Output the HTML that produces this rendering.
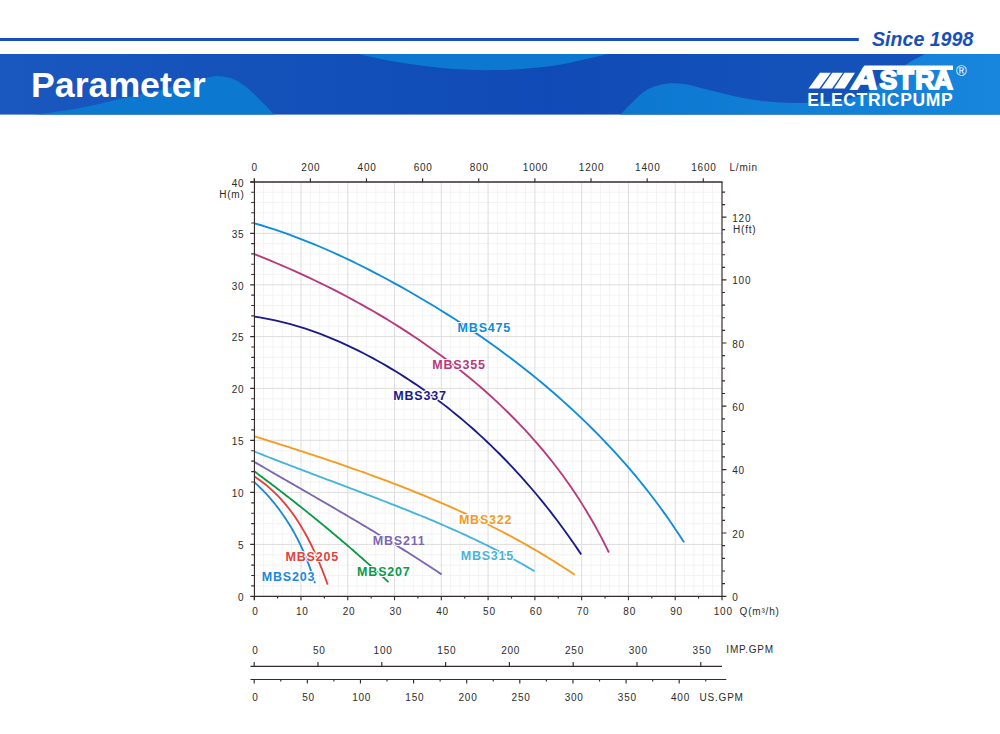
<!DOCTYPE html>
<html lang="en">
<head>
<meta charset="utf-8">
<title>Parameter</title>
<style>
html,body{margin:0;padding:0;background:#fff;}
body{width:1000px;height:734px;overflow:hidden;position:relative;font-family:"Liberation Sans",sans-serif;}
svg{position:absolute;left:0;top:0;display:block;}
text{font-family:"Liberation Sans",sans-serif;}
.ax{font-size:10px;fill:#2b2b2b;letter-spacing:0.8px;}
.cl{font-size:12.5px;font-weight:bold;letter-spacing:0.8px;stroke:#fff;stroke-width:2.2px;paint-order:stroke fill;stroke-linejoin:round;}
.ttl{font-size:35.7px;font-weight:bold;fill:#fff;}
.since{font-size:19.6px;font-weight:bold;font-style:italic;fill:#1650b8;}
.ep{font-size:17.5px;font-weight:bold;fill:#fff;}
.lg{font-size:26.5px;font-weight:bold;fill:#fff;stroke:#fff;stroke-width:1.8px;stroke-linejoin:miter;}
.reg{font-size:14.5px;fill:#fff;}
</style>
</head>
<body>
<svg width="1000" height="734" viewBox="0 0 1000 734">
<defs>
<linearGradient id="rg" x1="0" y1="0" x2="1" y2="0">
<stop offset="0" stop-color="#0d77d0"/><stop offset="0.6" stop-color="#1380d8"/><stop offset="1" stop-color="#1886dc"/>
</linearGradient>
<linearGradient id="bg" x1="0" y1="0" x2="1" y2="0">
<stop offset="0" stop-color="#1a58c0"/><stop offset="0.25" stop-color="#1452ba"/><stop offset="0.55" stop-color="#104ab6"/><stop offset="0.8" stop-color="#1452ba"/><stop offset="1" stop-color="#1452ba"/>
</linearGradient>
<clipPath id="bn"><rect x="0" y="54" width="1000" height="60.6"/></clipPath>
</defs>
<!--HEADER-->
<rect x="0" y="38" width="858.8" height="3" fill="#1650b8"/>
<text x="872" y="45.6" class="since">Since 1998</text>
<rect x="0" y="54" width="1000" height="60.6" fill="url(#bg)"/>
<g clip-path="url(#bn)">
<path d="M28.0 117.0C29.7 116.6 29.3 115.9 38.0 114.4C46.7 112.9 66.3 110.6 80.0 108.0C93.7 105.4 106.7 102.0 120.0 99.0C133.3 96.0 148.3 92.8 160.0 90.0C171.7 87.2 182.3 84.0 190.0 82.0C197.7 80.0 201.3 79.0 206.0 78.0C210.7 77.0 213.7 75.9 218.0 76.0C222.3 76.1 227.5 76.8 232.0 78.5C236.5 80.2 241.2 83.2 245.0 86.0C248.8 88.8 251.7 91.8 255.0 95.0C258.3 98.2 261.8 101.7 265.0 105.0C268.2 108.3 271.7 112.1 274.0 114.6C276.3 117.1 278.2 119.1 279.0 120.0L28 120Z" fill="#0c78d0"/>
<path d="M340.0 48.0C342.9 49.0 347.5 51.3 357.5 53.8C367.5 56.2 384.6 60.0 400.0 62.5C415.4 65.0 433.3 67.5 450.0 68.8C466.7 70.0 483.3 70.4 500.0 70.0C516.7 69.6 536.3 67.9 550.0 66.2C563.7 64.6 572.8 62.0 582.0 60.0C591.2 58.0 598.3 56.5 605.0 54.5C611.7 52.5 619.2 49.1 622.0 48.0Z" fill="#0c78d0"/>
<path d="M617.0 120.0C617.6 119.0 618.2 117.2 620.9 114.2C623.6 111.2 629.1 105.4 633.0 101.7C636.9 98.0 640.3 94.4 644.0 91.8C647.7 89.2 651.0 87.7 655.0 86.3C659.0 84.9 663.4 83.8 668.2 83.4C673.0 83.0 678.5 83.4 683.6 84.1C688.7 84.8 692.8 85.9 699.0 87.4C705.2 88.9 713.7 91.1 721.0 92.9C728.3 94.7 735.7 96.6 743.0 98.0C750.3 99.4 757.7 100.5 765.0 101.3C772.3 102.1 779.7 102.5 787.0 102.8C794.3 103.0 800.2 103.2 809.0 102.8C817.8 102.4 831.2 101.8 840.0 100.5C848.8 99.2 855.3 97.8 862.0 95.0C868.7 92.2 874.5 87.8 880.0 84.0C885.5 80.2 890.0 75.7 895.0 72.0C900.0 68.3 905.0 65.0 910.0 62.0C915.0 59.0 921.3 56.3 925.0 54.0C928.7 51.7 930.8 49.0 932.0 48.0L1001 48L1001 120Z" fill="url(#rg)"/>
</g>
<text x="31" y="97" class="ttl">Parameter</text>
<g fill="#fff" role="img" aria-label="MASTRA"><title>MASTRA ELECTRICPUMP</title>
<polygon points="808.5,88.5 819.3,88.5 830.8,72.8 820,72.8"/>
<polygon points="821.3,88.5 832.1,88.5 843,72.8 832.3,72.8"/>
<polygon points="834,88.5 844.8,88.5 855,72.8 844.4,72.8"/>
<polygon points="864.5,65.5 953,65.5 953,70 861.5,70"/>
</g>
<text class="lg" transform="translate(850.6,88.6) skewX(-10) scale(1.36,1.16)" x="0" y="0">A</text>
<text class="lg" x="879.5 897.6 915.2 933.8" y="88.6">STRA</text>
<text x="807.2" y="106" class="ep" textLength="145.6" lengthAdjust="spacing">ELECTRICPUMP</text>
<text x="956" y="75.6" class="reg">®</text>
<!--CHART-->
<path d="M263.56 182.0V596.3M272.91 182.0V596.3M282.27 182.0V596.3M291.62 182.0V596.3M310.34 182.0V596.3M319.69 182.0V596.3M329.05 182.0V596.3M338.40 182.0V596.3M357.12 182.0V596.3M366.47 182.0V596.3M375.83 182.0V596.3M385.18 182.0V596.3M403.90 182.0V596.3M413.25 182.0V596.3M422.61 182.0V596.3M431.96 182.0V596.3M450.68 182.0V596.3M460.03 182.0V596.3M469.39 182.0V596.3M478.74 182.0V596.3M497.46 182.0V596.3M506.81 182.0V596.3M516.17 182.0V596.3M525.52 182.0V596.3M544.24 182.0V596.3M553.59 182.0V596.3M562.95 182.0V596.3M572.30 182.0V596.3M591.02 182.0V596.3M600.37 182.0V596.3M609.73 182.0V596.3M619.08 182.0V596.3M637.80 182.0V596.3M647.15 182.0V596.3M656.51 182.0V596.3M665.86 182.0V596.3M684.58 182.0V596.3M693.93 182.0V596.3M703.29 182.0V596.3M712.64 182.0V596.3M254.2 585.92H722.0M254.2 575.54H722.0M254.2 565.16H722.0M254.2 554.78H722.0M254.2 534.00H722.0M254.2 523.60H722.0M254.2 513.20H722.0M254.2 502.80H722.0M254.2 481.98H722.0M254.2 471.56H722.0M254.2 461.14H722.0M254.2 450.72H722.0M254.2 429.92H722.0M254.2 419.54H722.0M254.2 409.16H722.0M254.2 398.78H722.0M254.2 378.04H722.0M254.2 367.68H722.0M254.2 357.32H722.0M254.2 346.96H722.0M254.2 326.24H722.0M254.2 315.88H722.0M254.2 305.52H722.0M254.2 295.16H722.0M254.2 274.50H722.0M254.2 264.20H722.0M254.2 253.90H722.0M254.2 243.60H722.0M254.2 223.04H722.0M254.2 212.78H722.0M254.2 202.52H722.0M254.2 192.26H722.0" stroke="#f3f3f3" stroke-width="1" fill="none"/>
<path d="M300.98 182.0V596.3M347.76 182.0V596.3M394.54 182.0V596.3M441.32 182.0V596.3M488.10 182.0V596.3M534.88 182.0V596.3M581.66 182.0V596.3M628.44 182.0V596.3M675.22 182.0V596.3M254.2 544.40H722.0M254.2 492.40H722.0M254.2 440.30H722.0M254.2 388.40H722.0M254.2 336.60H722.0M254.2 284.80H722.0M254.2 233.30H722.0" stroke="#dddddd" stroke-width="1" fill="none"/>
<path d="M254.50 223.29L261.15 225.26L267.76 227.32L274.34 229.45L280.88 231.67L287.39 233.96L293.87 236.33L300.31 238.77L306.72 241.29L313.10 243.87L319.46 246.52L325.78 249.24L332.08 252.01L338.35 254.86L344.59 257.75L350.81 260.71L357.00 263.72L363.17 266.79L369.31 269.90L375.44 273.07L381.54 276.28L387.62 279.54L393.69 282.83L399.73 286.18L405.75 289.56L411.76 292.98L417.74 296.44L423.70 299.94L429.64 303.49L435.55 307.08L441.44 310.70L447.31 314.37L453.15 318.09L458.96 321.84L464.74 325.64L470.50 329.47L476.23 333.36L481.93 337.28L487.60 341.24L493.23 345.25L498.84 349.30L504.41 353.40L509.95 357.54L515.45 361.72L520.92 365.94L526.35 370.21L531.75 374.52L537.11 378.88L542.43 383.28L547.71 387.72L552.95 392.21L558.15 396.75L563.30 401.32L568.42 405.95L573.49 410.61L578.52 415.33L583.51 420.09L588.45 424.89L593.34 429.74L598.18 434.63L602.98 439.57L607.73 444.56L612.43 449.59L617.08 454.67L621.68 459.79L626.23 464.96L630.72 470.18L635.16 475.44L639.55 480.75L643.88 486.11L648.16 491.51L652.38 496.96L656.54 502.46L660.64 508.01L664.69 513.60L668.68 519.25L672.60 524.94L676.47 530.67L680.27 536.46L684.01 542.30" stroke="#0d8bdc" stroke-width="1.85" fill="none" stroke-linecap="butt"/>
<path d="M254.50 254.20L260.06 256.41L265.61 258.66L271.14 260.94L276.67 263.26L282.18 265.62L287.68 268.01L293.17 270.44L298.64 272.90L304.10 275.40L309.54 277.94L314.97 280.51L320.38 283.12L325.78 285.77L331.16 288.45L336.52 291.18L341.86 293.94L347.18 296.74L352.48 299.57L357.76 302.45L363.01 305.36L368.25 308.32L373.46 311.31L378.65 314.35L383.82 317.42L388.96 320.53L394.07 323.68L399.16 326.88L404.23 330.11L409.26 333.39L414.27 336.70L419.25 340.06L424.20 343.46L429.12 346.90L434.01 350.38L438.86 353.91L443.69 357.47L448.48 361.08L453.24 364.74L457.97 368.43L462.66 372.17L467.32 375.96L471.94 379.78L476.53 383.65L481.08 387.57L485.59 391.53L490.06 395.53L494.49 399.58L498.89 403.67L503.24 407.81L507.54 411.99L511.81 416.22L516.02 420.50L520.19 424.81L524.32 429.18L528.39 433.59L532.41 438.04L536.38 442.54L540.30 447.08L544.16 451.67L547.97 456.31L551.72 460.99L555.41 465.72L559.04 470.49L562.62 475.31L566.13 480.17L569.58 485.08L572.97 490.03L576.30 495.02L579.57 500.05L582.78 505.13L585.93 510.24L589.02 515.40L592.04 520.59L595.00 525.82L597.91 531.09L600.74 536.39L603.52 541.73L606.24 547.10L608.89 552.51" stroke="#b8387e" stroke-width="1.85" fill="none" stroke-linecap="butt"/>
<path d="M254.50 316.65L259.71 317.43L264.89 318.32L270.05 319.30L275.18 320.38L280.30 321.55L285.39 322.81L290.45 324.15L295.50 325.58L300.52 327.10L305.51 328.69L310.48 330.36L315.43 332.11L320.35 333.94L325.25 335.83L330.12 337.79L334.97 339.82L339.79 341.92L344.59 344.07L349.35 346.29L354.10 348.56L358.81 350.89L363.50 353.27L368.16 355.70L372.80 358.18L377.40 360.71L381.98 363.28L386.53 365.91L391.06 368.58L395.55 371.30L400.02 374.06L404.46 376.87L408.87 379.73L413.25 382.62L417.60 385.57L421.92 388.55L426.22 391.58L430.48 394.65L434.72 397.76L438.93 400.91L443.10 404.11L447.25 407.34L451.36 410.61L455.45 413.93L459.51 417.28L463.53 420.66L467.53 424.09L471.49 427.55L475.42 431.05L479.33 434.58L483.20 438.15L487.04 441.76L490.84 445.39L494.62 449.06L498.36 452.77L502.08 456.51L505.76 460.27L509.41 464.07L513.02 467.90L516.60 471.76L520.15 475.65L523.67 479.57L527.16 483.52L530.61 487.50L534.03 491.50L537.41 495.53L540.76 499.59L544.08 503.67L547.36 507.78L550.61 511.92L553.83 516.07L557.01 520.25L560.15 524.46L563.26 528.69L566.34 532.94L569.38 537.21L572.39 541.50L575.36 545.81L578.30 550.14L581.20 554.50" stroke="#1a1a8c" stroke-width="1.85" fill="none" stroke-linecap="butt"/>
<path d="M254.50 436.30L258.72 437.62L262.94 438.94L267.15 440.27L271.37 441.60L275.59 442.93L279.81 444.27L284.03 445.62L288.25 446.97L292.46 448.32L296.68 449.68L300.90 451.05L305.11 452.42L309.33 453.80L313.54 455.19L317.75 456.58L321.96 457.99L326.17 459.40L330.37 460.81L334.58 462.24L338.78 463.68L342.97 465.12L347.17 466.58L351.36 468.04L355.55 469.51L359.73 471.00L363.91 472.49L368.09 474.00L372.26 475.51L376.42 477.04L380.59 478.58L384.75 480.13L388.90 481.70L393.05 483.28L397.19 484.87L401.32 486.47L405.45 488.09L409.58 489.72L413.70 491.36L417.81 493.02L421.91 494.70L426.01 496.39L430.10 498.09L434.19 499.81L438.26 501.55L442.33 503.30L446.39 505.07L450.45 506.86L454.49 508.67L458.53 510.49L462.56 512.33L466.57 514.19L470.58 516.06L474.59 517.96L478.58 519.87L482.56 521.80L486.53 523.76L490.49 525.73L494.44 527.72L498.38 529.74L502.31 531.77L506.23 533.83L510.14 535.91L514.04 538.00L517.93 540.13L521.80 542.27L525.66 544.43L529.51 546.62L533.35 548.84L537.18 551.07L540.99 553.33L544.79 555.62L548.58 557.92L552.35 560.26L556.11 562.62L559.86 565.00L563.59 567.41L567.31 569.85L571.01 572.31L574.70 574.80" stroke="#f59a1f" stroke-width="1.85" fill="none" stroke-linecap="butt"/>
<path d="M254.50 451.60L258.09 453.01L261.67 454.43L265.26 455.84L268.85 457.24L272.44 458.64L276.04 460.03L279.64 461.42L283.24 462.81L286.84 464.19L290.45 465.57L294.05 466.95L297.66 468.32L301.27 469.70L304.88 471.07L308.49 472.43L312.10 473.80L315.71 475.17L319.33 476.53L322.94 477.90L326.56 479.26L330.17 480.62L333.79 481.99L337.40 483.35L341.02 484.71L344.63 486.08L348.25 487.45L351.86 488.81L355.47 490.18L359.09 491.56L362.70 492.93L366.31 494.31L369.92 495.69L373.53 497.07L377.13 498.46L380.74 499.85L384.34 501.25L387.95 502.64L391.55 504.05L395.14 505.46L398.74 506.87L402.33 508.30L405.92 509.72L409.51 511.16L413.09 512.60L416.67 514.05L420.24 515.51L423.81 516.98L427.38 518.46L430.94 519.95L434.50 521.45L438.05 522.96L441.60 524.47L445.14 526.01L448.68 527.55L452.21 529.10L455.73 530.67L459.25 532.25L462.76 533.85L466.26 535.46L469.76 537.08L473.25 538.72L476.74 540.38L480.21 542.05L483.68 543.73L487.14 545.44L490.59 547.16L494.03 548.90L497.47 550.65L500.89 552.43L504.31 554.22L507.71 556.04L511.11 557.87L514.50 559.72L517.87 561.60L521.24 563.49L524.60 565.41L527.94 567.35L531.28 569.31L534.60 571.30" stroke="#45b4dc" stroke-width="1.85" fill="none" stroke-linecap="butt"/>
<path d="M254.50 462.00L256.89 463.39L259.28 464.78L261.67 466.17L264.06 467.55L266.45 468.94L268.84 470.32L271.23 471.71L273.63 473.09L276.02 474.47L278.41 475.86L280.81 477.24L283.20 478.62L285.59 480.00L287.99 481.38L290.38 482.76L292.77 484.14L295.17 485.52L297.56 486.90L299.96 488.28L302.35 489.66L304.74 491.04L307.13 492.42L309.53 493.80L311.92 495.18L314.31 496.56L316.70 497.95L319.09 499.33L321.48 500.72L323.87 502.10L326.26 503.49L328.65 504.88L331.04 506.26L333.43 507.65L335.81 509.05L338.20 510.44L340.58 511.83L342.97 513.23L345.35 514.63L347.73 516.03L350.11 517.43L352.49 518.83L354.87 520.24L357.24 521.64L359.62 523.05L361.99 524.47L364.37 525.88L366.74 527.30L369.11 528.72L371.48 530.14L373.84 531.56L376.21 532.99L378.57 534.42L380.93 535.85L383.29 537.29L385.65 538.73L388.01 540.17L390.36 541.61L392.72 543.06L395.07 544.51L397.42 545.97L399.76 547.43L402.11 548.89L404.45 550.36L406.79 551.83L409.13 553.30L411.46 554.78L413.80 556.26L416.13 557.75L418.46 559.24L420.78 560.74L423.11 562.24L425.43 563.74L427.75 565.25L430.06 566.76L432.38 568.28L434.69 569.80L436.99 571.33L439.30 572.86L441.60 574.40" stroke="#7b66b4" stroke-width="1.85" fill="none" stroke-linecap="butt"/>
<path d="M254.50 471.50L256.27 472.81L258.04 474.12L259.80 475.43L261.57 476.75L263.33 478.07L265.09 479.39L266.85 480.71L268.61 482.03L270.36 483.36L272.12 484.69L273.87 486.02L275.62 487.35L277.37 488.69L279.11 490.03L280.86 491.37L282.60 492.71L284.34 494.06L286.08 495.41L287.82 496.76L289.56 498.11L291.29 499.46L293.02 500.82L294.75 502.18L296.48 503.54L298.21 504.90L299.93 506.27L301.66 507.64L303.38 509.01L305.10 510.38L306.81 511.76L308.53 513.14L310.24 514.52L311.95 515.90L313.66 517.28L315.37 518.67L317.08 520.06L318.78 521.45L320.48 522.85L322.18 524.25L323.88 525.64L325.57 527.05L327.27 528.45L328.96 529.86L330.65 531.27L332.34 532.68L334.02 534.09L335.71 535.51L337.39 536.93L339.07 538.35L340.75 539.77L342.42 541.19L344.10 542.62L345.77 544.05L347.44 545.49L349.11 546.92L350.77 548.36L352.44 549.80L354.10 551.24L355.76 552.69L357.42 554.13L359.07 555.58L360.72 557.04L362.38 558.49L364.02 559.95L365.67 561.41L367.32 562.87L368.96 564.33L370.60 565.80L372.24 567.27L373.87 568.74L375.51 570.22L377.14 571.69L378.77 573.17L380.40 574.65L382.02 576.14L383.64 577.63L385.26 579.11L386.88 580.61L388.50 582.10" stroke="#0a9a46" stroke-width="1.85" fill="none" stroke-linecap="butt"/>
<path d="M254.50 476.60L255.94 477.54L257.36 478.50L258.77 479.47L260.16 480.46L261.53 481.47L262.88 482.49L264.22 483.53L265.55 484.58L266.86 485.65L268.15 486.74L269.42 487.84L270.68 488.95L271.93 490.08L273.16 491.22L274.38 492.37L275.58 493.54L276.76 494.73L277.93 495.92L279.09 497.13L280.23 498.35L281.36 499.59L282.48 500.83L283.58 502.09L284.67 503.36L285.74 504.64L286.80 505.93L287.85 507.24L288.88 508.55L289.90 509.88L290.91 511.21L291.90 512.56L292.89 513.91L293.86 515.28L294.82 516.65L295.76 518.04L296.70 519.43L297.62 520.83L298.53 522.24L299.43 523.66L300.32 525.09L301.19 526.52L302.06 527.96L302.92 529.41L303.76 530.87L304.59 532.33L305.42 533.80L306.23 535.28L307.03 536.77L307.83 538.25L308.61 539.75L309.38 541.25L310.15 542.76L310.90 544.27L311.65 545.78L312.38 547.30L313.11 548.83L313.83 550.36L314.54 551.89L315.24 553.43L315.93 554.97L316.62 556.51L317.29 558.06L317.96 559.61L318.62 561.16L319.28 562.72L319.92 564.27L320.56 565.83L321.19 567.39L321.82 568.95L322.43 570.52L323.04 572.08L323.65 573.64L324.24 575.21L324.84 576.77L325.42 578.34L326.00 579.91L326.57 581.47L327.14 583.03L327.70 584.60" stroke="#e2423c" stroke-width="1.85" fill="none" stroke-linecap="butt"/>
<path d="M254.50 482.30L255.62 483.32L256.74 484.35L257.84 485.39L258.94 486.43L260.02 487.49L261.10 488.55L262.16 489.62L263.22 490.70L264.27 491.79L265.31 492.89L266.34 493.99L267.36 495.11L268.37 496.23L269.37 497.36L270.36 498.49L271.34 499.64L272.31 500.79L273.28 501.95L274.23 503.12L275.17 504.29L276.11 505.47L277.04 506.66L277.95 507.85L278.86 509.06L279.76 510.27L280.65 511.48L281.53 512.70L282.40 513.93L283.26 515.17L284.11 516.41L284.96 517.66L285.79 518.92L286.62 520.18L287.43 521.44L288.24 522.72L289.04 524.00L289.83 525.28L290.61 526.57L291.38 527.87L292.14 529.17L292.89 530.48L293.63 531.79L294.37 533.11L295.09 534.43L295.81 535.76L296.52 537.09L297.22 538.43L297.90 539.77L298.59 541.12L299.26 542.47L299.92 543.83L300.57 545.19L301.22 546.55L301.85 547.92L302.48 549.30L303.10 550.67L303.71 552.06L304.31 553.44L304.90 554.83L305.48 556.23L306.06 557.62L306.62 559.02L307.18 560.43L307.73 561.84L308.27 563.25L308.80 564.66L309.32 566.08L309.83 567.50L310.33 568.92L310.83 570.35L311.32 571.78L311.79 573.21L312.26 574.64L312.72 576.08L313.18 577.52L313.62 578.96L314.05 580.41L314.48 581.85L314.90 583.30" stroke="#1b88d8" stroke-width="1.85" fill="none" stroke-linecap="butt"/>
<path d="M250.25 596.3H725.6M254.45 178.2V600.3M722.0 182.0V600.3M250.25 596.30H254.45M251.25 585.92H254.45M251.25 575.54H254.45M251.25 565.16H254.45M251.25 554.78H254.45M250.25 544.40H254.45M251.25 534.00H254.45M251.25 523.60H254.45M251.25 513.20H254.45M251.25 502.80H254.45M250.25 492.40H254.45M251.25 481.98H254.45M251.25 471.56H254.45M251.25 461.14H254.45M251.25 450.72H254.45M250.25 440.30H254.45M251.25 429.92H254.45M251.25 419.54H254.45M251.25 409.16H254.45M251.25 398.78H254.45M250.25 388.40H254.45M251.25 378.04H254.45M251.25 367.68H254.45M251.25 357.32H254.45M251.25 346.96H254.45M250.25 336.60H254.45M251.25 326.24H254.45M251.25 315.88H254.45M251.25 305.52H254.45M251.25 295.16H254.45M250.25 284.80H254.45M251.25 274.50H254.45M251.25 264.20H254.45M251.25 253.90H254.45M251.25 243.60H254.45M250.25 233.30H254.45M251.25 223.04H254.45M251.25 212.78H254.45M251.25 202.52H254.45M251.25 192.26H254.45M250.25 182.00H254.45M254.20 178.2V182.0M310.34 178.2V182.0M366.47 178.2V182.0M422.61 178.2V182.0M478.74 178.2V182.0M534.88 178.2V182.0M591.02 178.2V182.0M647.15 178.2V182.0M703.29 178.2V182.0M722.0 596.30H726.4M722.0 583.64H725.0M722.0 570.99H725.0M722.0 558.33H725.0M722.0 545.68H725.0M722.0 533.00H726.4M722.0 520.32H725.0M722.0 507.64H725.0M722.0 494.96H725.0M722.0 482.26H725.0M722.0 469.56H726.4M722.0 456.86H725.0M722.0 444.15H725.0M722.0 431.48H725.0M722.0 418.83H725.0M722.0 406.17H726.4M722.0 393.52H725.0M722.0 380.87H725.0M722.0 368.24H725.0M722.0 355.61H725.0M722.0 342.98H726.4M722.0 330.35H725.0M722.0 317.72H725.0M722.0 305.09H725.0M722.0 292.46H725.0M722.0 279.86H726.4M722.0 267.30H725.0M722.0 254.74H725.0M722.0 242.18H725.0M722.0 229.64H725.0M722.0 217.13H726.4M722.0 204.62H725.0M722.0 192.11H725.0M254.20 596.3V600.3M277.59 596.3V598.5M300.98 596.3V600.3M324.37 596.3V598.5M347.76 596.3V600.3M371.15 596.3V598.5M394.54 596.3V600.3M417.93 596.3V598.5M441.32 596.3V600.3M464.71 596.3V598.5M488.10 596.3V600.3M511.49 596.3V598.5M534.88 596.3V600.3M558.27 596.3V598.5M581.66 596.3V600.3M605.05 596.3V598.5M628.44 596.3V600.3M651.83 596.3V598.5M675.22 596.3V600.3M698.61 596.3V598.5M722.00 596.3V600.3M250.45 666.3H722.0M254.20 661.9V666.3M318.00 661.9V666.3M381.80 661.9V666.3M445.60 661.9V666.3M509.40 661.9V666.3M573.20 661.9V666.3M636.99 661.9V666.3M700.79 661.9V666.3M250.45 679.5H726.3M254.20 679.5V683.5M280.76 679.5V681.5M307.32 679.5V683.5M333.89 679.5V681.5M360.45 679.5V683.5M387.01 679.5V681.5M413.57 679.5V683.5M440.13 679.5V681.5M466.70 679.5V683.5M493.26 679.5V681.5M519.82 679.5V683.5M546.38 679.5V681.5M572.94 679.5V683.5M599.51 679.5V681.5M626.07 679.5V683.5M652.63 679.5V681.5M679.19 679.5V683.5M705.75 679.5V681.5" stroke="#332b2b" stroke-width="1.15" fill="none"/>
<path d="M250.25 181.95H722.6" stroke="#332b2b" stroke-width="1.6" fill="none"/>
<text x="254.8" y="171.0" text-anchor="middle" class="ax">0</text>
<text x="310.9" y="171.0" text-anchor="middle" class="ax">200</text>
<text x="367.1" y="171.0" text-anchor="middle" class="ax">400</text>
<text x="423.2" y="171.0" text-anchor="middle" class="ax">600</text>
<text x="479.3" y="171.0" text-anchor="middle" class="ax">800</text>
<text x="535.5" y="171.0" text-anchor="middle" class="ax">1000</text>
<text x="591.6" y="171.0" text-anchor="middle" class="ax">1200</text>
<text x="647.8" y="171.0" text-anchor="middle" class="ax">1400</text>
<text x="703.9" y="171.0" text-anchor="middle" class="ax">1600</text>
<text x="729.5" y="171.0" text-anchor="start" class="ax">L/min</text>
<text x="244.4" y="549.1" text-anchor="end" class="ax">5</text>
<text x="244.4" y="497.1" text-anchor="end" class="ax">10</text>
<text x="244.4" y="445.0" text-anchor="end" class="ax">15</text>
<text x="244.4" y="393.1" text-anchor="end" class="ax">20</text>
<text x="244.4" y="341.3" text-anchor="end" class="ax">25</text>
<text x="244.4" y="289.5" text-anchor="end" class="ax">30</text>
<text x="244.4" y="238.0" text-anchor="end" class="ax">35</text>
<text x="244.4" y="186.7" text-anchor="end" class="ax">40</text>
<text x="244.4" y="600.8" text-anchor="end" class="ax">0</text>
<text x="244.6" y="197.7" text-anchor="end" class="ax">H(m)</text>
<text x="732.2" y="600.8" text-anchor="start" class="ax">0</text>
<text x="732.2" y="537.5" text-anchor="start" class="ax">20</text>
<text x="732.2" y="474.1" text-anchor="start" class="ax">40</text>
<text x="732.2" y="410.7" text-anchor="start" class="ax">60</text>
<text x="732.2" y="347.5" text-anchor="start" class="ax">80</text>
<text x="732.2" y="284.4" text-anchor="start" class="ax">100</text>
<text x="732.2" y="221.6" text-anchor="start" class="ax">120</text>
<text x="733.0" y="232.5" text-anchor="start" class="ax">H(ft)</text>
<text x="255.5" y="614.6" text-anchor="middle" class="ax">0</text>
<text x="302.3" y="614.6" text-anchor="middle" class="ax">10</text>
<text x="349.1" y="614.6" text-anchor="middle" class="ax">20</text>
<text x="395.8" y="614.6" text-anchor="middle" class="ax">30</text>
<text x="442.6" y="614.6" text-anchor="middle" class="ax">40</text>
<text x="489.4" y="614.6" text-anchor="middle" class="ax">50</text>
<text x="536.2" y="614.6" text-anchor="middle" class="ax">60</text>
<text x="583.0" y="614.6" text-anchor="middle" class="ax">70</text>
<text x="629.7" y="614.6" text-anchor="middle" class="ax">80</text>
<text x="676.5" y="614.6" text-anchor="middle" class="ax">90</text>
<text x="723.3" y="614.6" text-anchor="middle" class="ax">100</text>
<text x="739.6" y="614.6" text-anchor="start" class="ax">Q(m³/h)</text>
<text x="255.5" y="653.8" text-anchor="middle" class="ax">0</text>
<text x="319.3" y="653.8" text-anchor="middle" class="ax">50</text>
<text x="383.1" y="653.8" text-anchor="middle" class="ax">100</text>
<text x="446.9" y="653.8" text-anchor="middle" class="ax">150</text>
<text x="510.7" y="653.8" text-anchor="middle" class="ax">200</text>
<text x="574.5" y="653.8" text-anchor="middle" class="ax">250</text>
<text x="638.3" y="653.8" text-anchor="middle" class="ax">300</text>
<text x="702.1" y="653.8" text-anchor="middle" class="ax">350</text>
<text x="726.3" y="653.4" text-anchor="start" class="ax">IMP.GPM</text>
<text x="255.5" y="700.7" text-anchor="middle" class="ax">0</text>
<text x="308.6" y="700.7" text-anchor="middle" class="ax">50</text>
<text x="361.7" y="700.7" text-anchor="middle" class="ax">100</text>
<text x="414.9" y="700.7" text-anchor="middle" class="ax">150</text>
<text x="468.0" y="700.7" text-anchor="middle" class="ax">200</text>
<text x="521.1" y="700.7" text-anchor="middle" class="ax">250</text>
<text x="574.2" y="700.7" text-anchor="middle" class="ax">300</text>
<text x="627.4" y="700.7" text-anchor="middle" class="ax">350</text>
<text x="680.5" y="700.7" text-anchor="middle" class="ax">400</text>
<text x="699.5" y="700.7" text-anchor="start" class="ax">US.GPM</text>
<text x="457.6" y="332.1" class="cl" fill="#0d8bdc">MBS475</text>
<text x="432.3" y="368.5" class="cl" fill="#b8387e">MBS355</text>
<text x="393.3" y="399.5" class="cl" fill="#1a1a8c">MBS337</text>
<text x="458.9" y="524.4" class="cl" fill="#f59a1f">MBS322</text>
<text x="460.7" y="560.2" class="cl" fill="#45b4dc">MBS315</text>
<text x="372.8" y="544.6" class="cl" fill="#7b66b4">MBS211</text>
<text x="357.1" y="575.5" class="cl" fill="#0a9a46">MBS207</text>
<text x="285.5" y="561.3" class="cl" fill="#e2423c">MBS205</text>
<text x="261.8" y="581.1" class="cl" fill="#1b88d8">MBS203</text>
</svg>
</body>
</html>
